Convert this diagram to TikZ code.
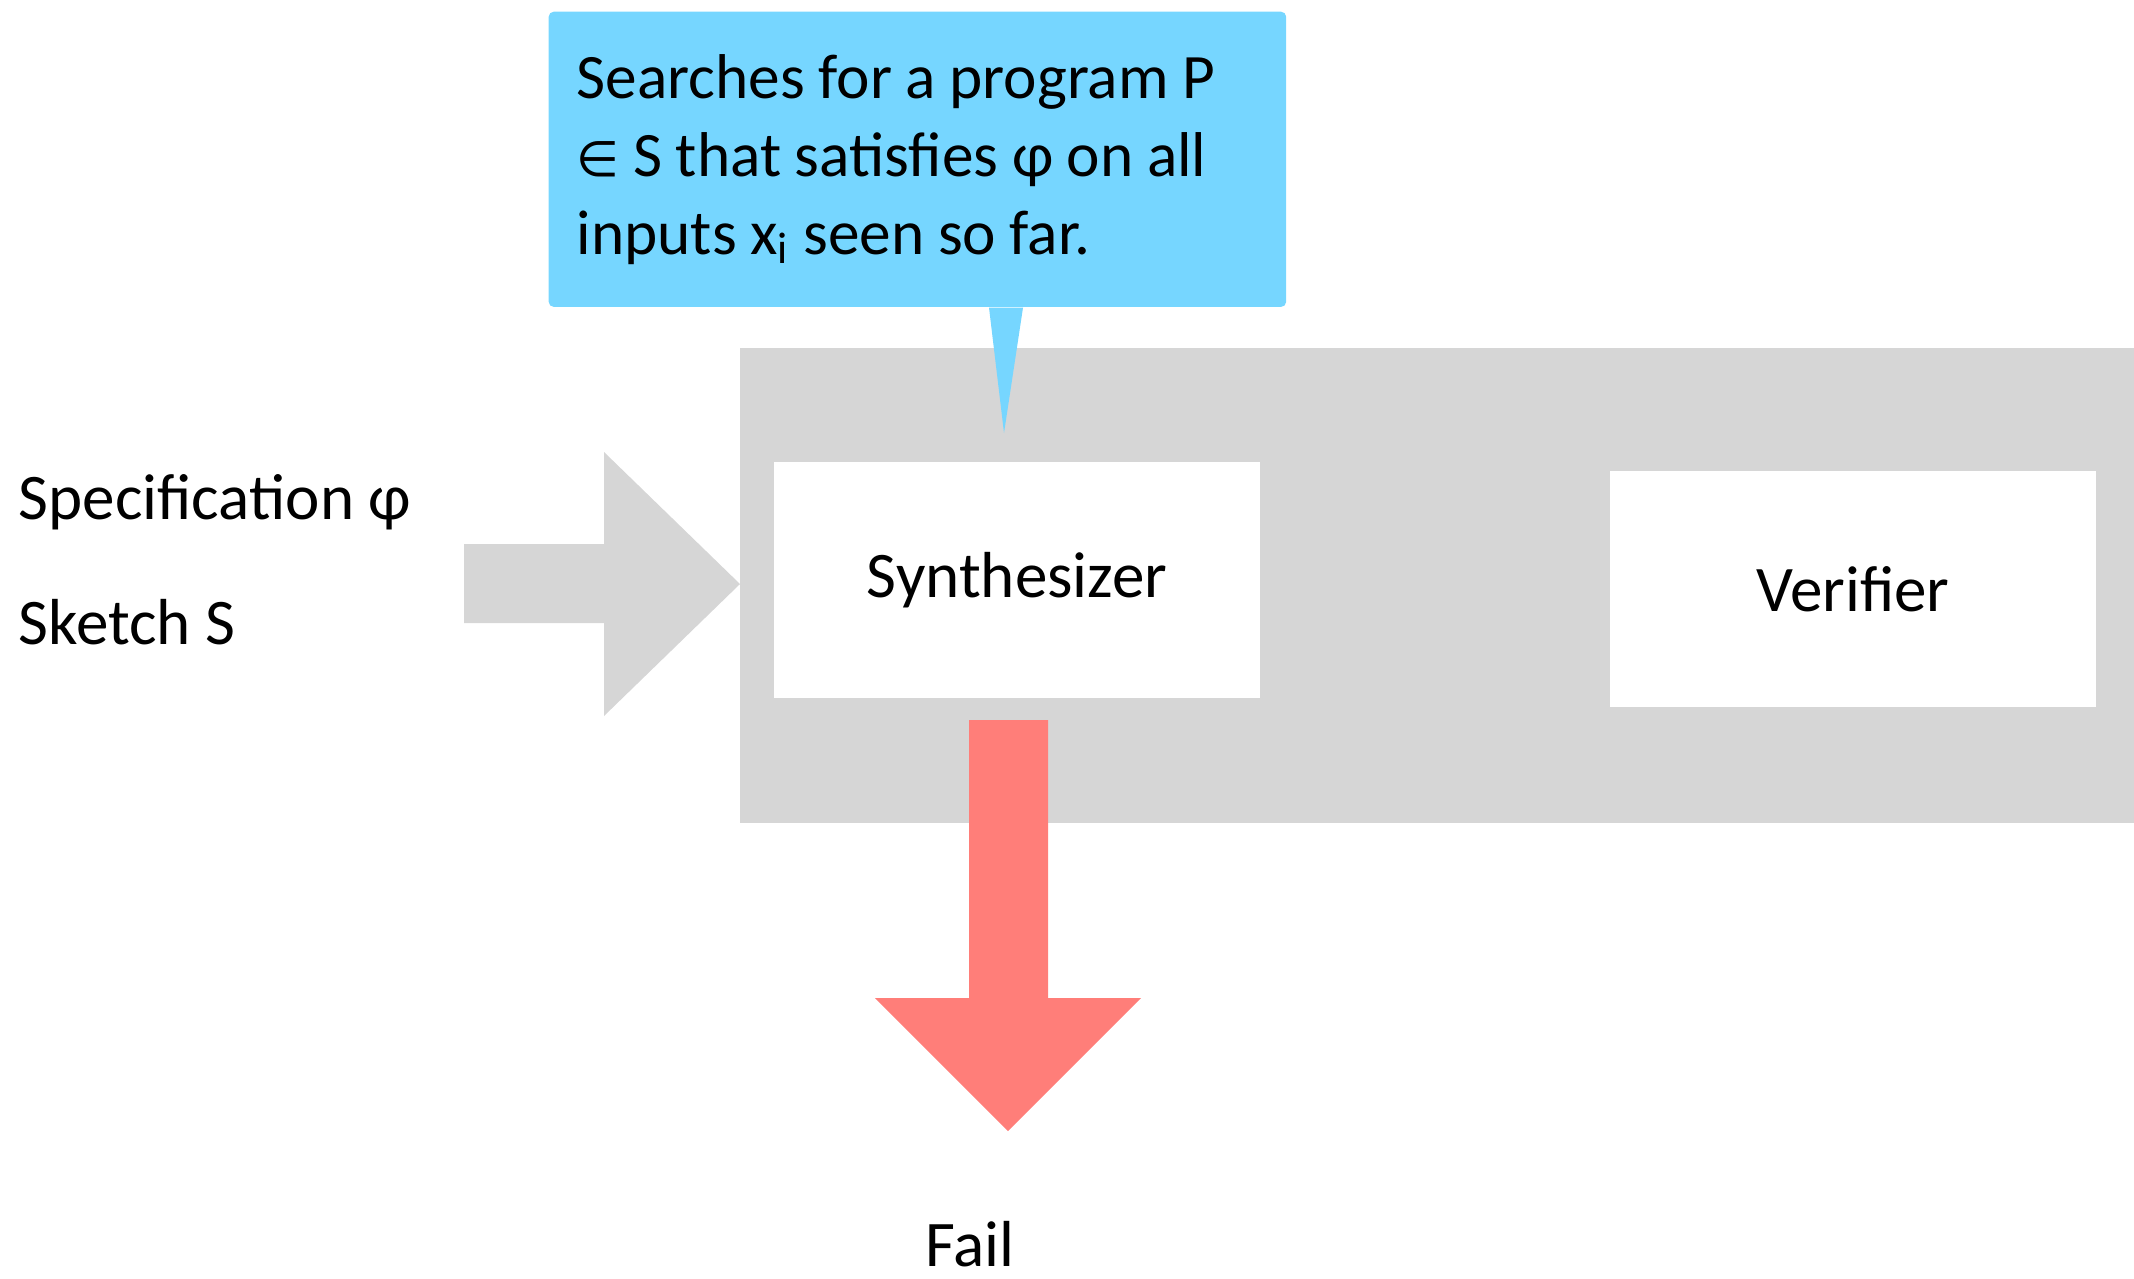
\documentclass[tikz,border=0pt]{standalone}
\usepackage{fontspec}
\setmainfont{Carlito}
\newfontfamily\symbolfont{DejaVu Sans}
\usetikzlibrary{positioning}

\definecolor{panelgray}{RGB}{214,214,214}
\definecolor{noteblue}{RGB}{118,214,255}
\definecolor{failred}{RGB}{255,126,121}

\newcommand\tightspace{\spaceskip=0.95\fontdimen2\font\relax}

\tikzset{
  bigtext/.style={font=\fontsize{18.5}{22.2}\selectfont},
  stage/.style={bigtext, fill=white, minimum width=4.86cm, minimum height=2.35cm},
  plain/.style={bigtext, inner sep=0pt},
  note/.style={font=\fontsize{18}{22.2}\selectfont,
    fill=noteblue, rounded corners=0.05cm, text width=6.81cm,
    align=left, inner xsep=0.28cm, minimum width=7.37cm, minimum height=2.95cm}
}

\begin{document}
\begin{tikzpicture}[x=0.01cm, y=-0.01cm]
  \useasboundingbox (0,0) rectangle (2134,1278);

  % gray panel round the loop
  \fill[panelgray] (740,348) rectangle (2134,823);

  \node[stage] (synth) at (1017,580) {Synthesizer};
  \node[stage] (verif) at (1853,589) {Verifier};

  % inputs
  \node[plain, anchor=west] (spec) at (18,502) {Specification φ};
  \node[plain, anchor=west] (sketch) at (18,622) {Sketch S};
  \coordinate (intip) at (740,584);
  \fill[panelgray] (intip) -- ++(-136,-132) -- ++(0,92) -- ++(-140,0)
    -- ++(0,79) -- ++(140,0) -- ++(0,93) -- cycle;

  % callout
  \node[note, anchor=north west] (search) at (548,11)
    {\tightspace\mbox{Searches for a program P}\\
     \mbox{{\symbolfont\fontsize{14}{22.2}\selectfont ∈} S that satisfies φ on all}\\
     \mbox{inputs x\textsubscript{i} seen so far.}};
  \coordinate (pointer) at (1004,433);
  \fill[noteblue] ([xshift=-0.15cm]search.south -| pointer) -- (pointer)
    -- ([xshift=0.19cm]search.south -| pointer) -- cycle;

  % failure exit
  \coordinate (failtip) at (1008,1131);
  \fill[failred] (failtip) -- ++(-133,-133) -- ++(94,0) -- ++(0,-278)
    -- ++(79,0) -- ++(0,278) -- ++(93,0) -- cycle;
  \node[plain] (fail) at (970,1244) {Fail};
\end{tikzpicture}
\end{document}
